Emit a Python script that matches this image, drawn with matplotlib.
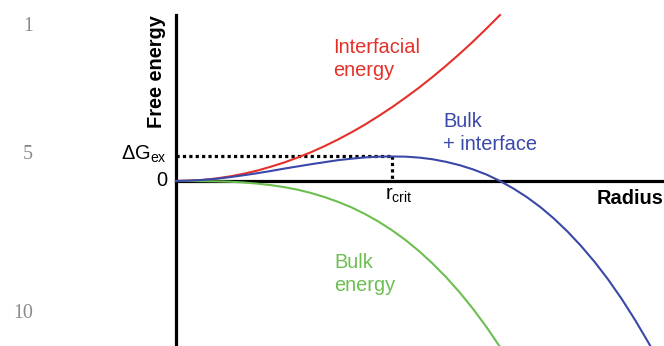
import numpy as np
import matplotlib.pyplot as plt

plt.rcParams['font.family'] = ['Liberation Sans', 'DejaVu Sans']

# ---------------- data (arbitrary units) ----------------
radius = [0.0, 0.125, 0.25, 0.375, 0.5, 0.625, 0.75, 0.875, 1.0, 1.125, 1.25, 1.375,
          1.5, 1.625, 1.75, 1.875, 2.0, 2.125, 2.25, 2.375, 2.5, 2.625, 2.75, 2.875,
          3.0, 3.125, 3.25, 3.375, 3.5, 3.625, 3.75, 3.875, 4.0, 4.125, 4.25, 4.375,
          4.45]
interfacial = [0.0, 0.02, 0.06, 0.14, 0.25, 0.39, 0.56, 0.77, 1.0, 1.27, 1.56, 1.89,
               2.25, 2.64, 3.06, 3.52, 4.0, 4.52, 5.06, 5.64, 6.25, 6.89, 7.56, 8.27,
               9.0]
bulk = [0.0, 0.0, -0.01, -0.02, -0.04, -0.08, -0.14, -0.22, -0.33, -0.47, -0.65, -0.87,
        -1.13, -1.43, -1.79, -2.20, -2.67, -3.20, -3.80, -4.47, -5.21, -6.03, -6.93,
        -7.92, -9.0]
total = [0.0, 0.02, 0.06, 0.12, 0.21, 0.31, 0.42, 0.54, 0.67, 0.79, 0.91, 1.02,
         1.13, 1.21, 1.28, 1.32, 1.33, 1.32, 1.27, 1.18, 1.04, 0.86, 0.63, 0.35,
         0.0, -0.41, -0.88, -1.42, -2.04, -2.74, -3.52, -4.38, -5.33, -6.38, -7.53,
         -8.77, -9.57]

red = '#e5302a'
blue = '#3a48a8'
green = '#6cbf50'

W, H = 664, 346
fig = plt.figure(figsize=(W / 100, H / 100), dpi=100)
ax = fig.add_axes([0, 0, 1, 1])

# pixel scale: origin at (176, 181), 108 px per radius unit, 18.44 px per energy unit
ax.set_xlim(-176 / 108, (W - 176) / 108)
ax.set_ylim(-(H - 181) / 18.44, 181 / 18.44)

n = len(interfacial)
ax.plot(radius[:n], interfacial, color=red, lw=1.5, zorder=3)
ax.plot(radius[:n], bulk, color=green, lw=1.5, zorder=3)
ax.plot(radius, total, color=blue, lw=1.5, zorder=4)

# critical radius / barrier from the summed curve
i = int(np.argmax(total))
r_crit, dG = radius[i], total[i]
ax.plot([0, r_crit], [dG, dG], color='black', lw=2.3, linestyle=(0, (1, 1)), zorder=2)
ax.plot([r_crit, r_crit], [dG, 0], color='black', lw=2.3, linestyle=(0, (1, 1)), zorder=2)

# axes through the origin
for s in ['top', 'right']:
    ax.spines[s].set_visible(False)
ax.spines['left'].set_position(('data', 0))
ax.spines['bottom'].set_position(('data', 0))
ax.spines['left'].set_linewidth(2.3)
ax.spines['bottom'].set_linewidth(2.3)
ax.spines['left'].set_bounds(ax.get_ylim()[0], max(interfacial))
ax.spines['bottom'].set_bounds(0, ax.get_xlim()[1])
ax.set_xticks([])
ax.set_yticks([])
ax.patch.set_alpha(0)


def px(x, y):
    return x / W, 1 - y / H


fs = 14.4
tf = fig.transFigure
fig.text(*px(157, 72), 'Free energy', rotation=90, ha='center', va='center',
         fontsize=fs, fontweight='bold', transform=tf)
fig.text(*px(663, 204), 'Radius', ha='right', va='baseline', fontsize=fs,
         fontweight='bold', transform=tf)
fig.text(*px(167, 181), '0', ha='right', va='center', fontsize=fs, transform=tf)
fig.text(*px(167, 160), r'$\mathregular{\Delta G_{ex}}$', ha='right', va='baseline',
         fontsize=fs, transform=tf)
fig.text(*px(385, 200), r'$\mathregular{r_{crit}}$', ha='left', va='baseline',
         fontsize=fs, transform=tf)

labels = [
    (333, [53, 76], ['Interfacial', 'energy'], red),
    (443, [127, 150], ['Bulk', '+ interface'], blue),
    (334, [268, 291], ['Bulk', 'energy'], green),
]
for x, ys, lines, c in labels:
    for y, t in zip(ys, lines):
        fig.text(*px(x, y), t, ha='left', va='baseline', fontsize=fs, color=c,
                 transform=tf)

# line numbers of the source page
for y, t in [(31, '1'), (159, '5'), (318, '10')]:
    fig.text(*px(33, y), t, ha='right', va='baseline', fontsize=14.4,
             color='#8a8a8a', family=['Liberation Serif', 'DejaVu Serif'],
             transform=tf)

fig.savefig('out.png', dpi=100)
